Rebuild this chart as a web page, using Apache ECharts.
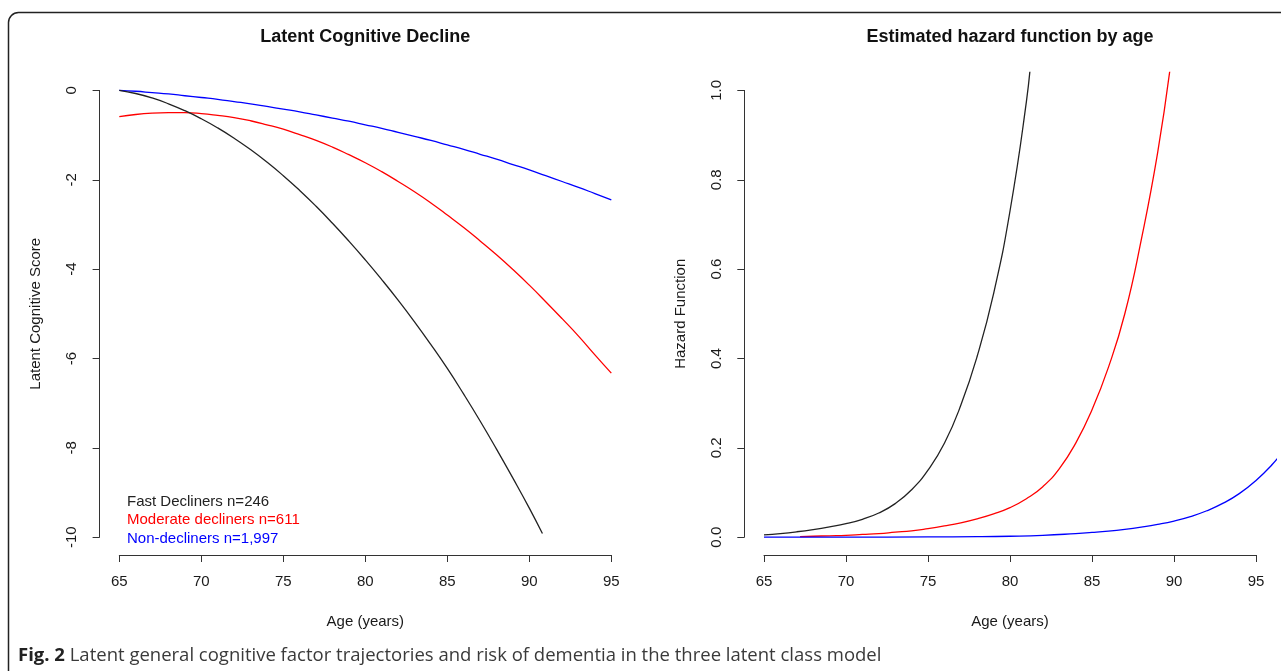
<!DOCTYPE html>
<html><head><meta charset="utf-8">
<script src="https://cdn.jsdelivr.net/npm/echarts@6/dist/echarts.min.js"></script>
<style>html,body{margin:0;padding:0;background:#fff}#c{width:1281px;height:671px}</style>
</head><body><div id="c"></div>
<script>
// ---- data ----
const seriesNames = ['Fast Decliners n=246', 'Moderate decliners n=611', 'Non-decliners n=1,997'];
const seriesColors = ['#222222', '#ff0000', '#0000ff'];

// Left panel: latent cognitive score by age
const scoreAgesFast = [65,66,67,68,69,70,71,72,73,74,75,76,77,78,79,80,81,82,83,84,85,86,87,88,89,90,90.8];
const scoreFast = [0,-0.07,-0.17,-0.3,-0.455,-0.635,-0.84,-1.07,-1.325,-1.605,-1.91,-2.24,-2.595,-2.975,-3.375,-3.795,-4.235,-4.695,-5.18,-5.69,-6.225,-6.8,-7.4,-8.03,-8.68,-9.35,-9.92];
const scoreAges = [65,66,67,68,69,70,71,72,73,74,75,76,77,78,79,80,81,82,83,84,85,86,87,88,89,90,91,92,93,94,95];
const scoreModerate = [-0.59,-0.54,-0.51,-0.5,-0.5,-0.52,-0.56,-0.61,-0.68,-0.77,-0.87,-0.99,-1.12,-1.27,-1.44,-1.62,-1.82,-2.04,-2.27,-2.52,-2.79,-3.07,-3.37,-3.68,-4.01,-4.36,-4.73,-5.11,-5.5,-5.92,-6.33];
const scoreNon = [0,-0.02,-0.05,-0.08,-0.12,-0.16,-0.2,-0.25,-0.3,-0.36,-0.42,-0.48,-0.55,-0.62,-0.69,-0.77,-0.85,-0.94,-1.03,-1.12,-1.22,-1.32,-1.43,-1.54,-1.66,-1.78,-1.91,-2.04,-2.17,-2.31,-2.45];

// Right panel: estimated hazard by age
const hazAgesFast = [65,66,67,68,69,70,71,72,73,74,75,76,77,78,79,80,81,81.3];
const hazFast = [0.005,0.008,0.012,0.017,0.023,0.03,0.04,0.054,0.075,0.106,0.15,0.21,0.295,0.405,0.545,0.73,0.975,1.08];
const hazAgesModerate = [67.2,68,69,70,71,72,73,74,75,76,77,78,79,80,81,82,83,84,85,86,87,88,89,89.8];
const hazModerate = [0.001,0.002,0.003,0.004,0.006,0.008,0.011,0.014,0.019,0.025,0.032,0.041,0.052,0.066,0.086,0.113,0.153,0.21,0.285,0.38,0.5,0.665,0.86,1.06];
const hazAgesNon = [65,70,75,78,80,82,84,85,86,87,88,89,90,91,92,93,94,95,96,96.6];
const hazNon = [0,0,0.0005,0.001,0.002,0.004,0.008,0.0105,0.0135,0.0175,0.0225,0.0285,0.036,0.046,0.059,0.076,0.098,0.127,0.163,0.19];

const xTickMin = 65, xTickMax = 95, xTickStep = 5;
const scoreTickMin = -10, scoreTickMax = 0, scoreTickStep = 2;
const hazTickMin = 0, hazTickMax = 1, hazTickStep = 0.2;

// ---- chart ----
const FONT = 'Liberation Sans, Arial, Helvetica, sans-serif';
const CAPFONT = 'Open Sans, Noto Sans, sans-serif';
const pairs = (xs, ys) => xs.map((x, i) => [x, ys[i]]);
const axisColor = '#333';
const lineW = 1.3;

function tickAxis(extra) {
  return Object.assign({
    type: 'value',
    axisLine: { show: true, onZero: false, lineStyle: { color: axisColor, width: 1 } },
    axisTick: { show: true, length: 7, lineStyle: { color: axisColor, width: 1 } },
    splitLine: { show: false },
    axisLabel: { fontSize: 15, color: '#1a1a1a', fontFamily: FONT },
    nameLocation: 'middle',
    nameTextStyle: { fontSize: 15, color: '#1a1a1a', fontFamily: FONT }
  }, extra);
}
const hidden = (g, mn, mx) => ({ type: 'value', gridIndex: g, min: mn, max: mx, show: false });

const PL = 99.6, PR = 744.3, plotW = 531.4, plotTop = 72.5, plotH = 482.5;
const tickW = 492, tickOff = 19.7, yTop = 90.4, yH = 446.8;

const grids = [
  { left: PL, top: plotTop, width: plotW, height: plotH },
  { left: PL + tickOff, top: plotTop, width: tickW, height: plotH },
  { left: PL, top: yTop, width: plotW, height: yH },
  { left: PR, top: plotTop, width: plotW, height: plotH },
  { left: PR + tickOff, top: plotTop, width: tickW, height: plotH },
  { left: PR, top: yTop, width: plotW, height: yH }
];

const lineSeries = (name, i, xi, yi, data) => ({
  name: name, type: 'line', xAxisIndex: xi, yAxisIndex: yi, data: data,
  showSymbol: false, symbol: 'none', smooth: 0.5, clip: true,
  lineStyle: { color: seriesColors[i], width: lineW }, itemStyle: { color: seriesColors[i] },
  emphasis: { disabled: true }, animation: false
});

const option = {
  backgroundColor: '#fff',
  animation: false,
  title: [
    { text: 'Latent Cognitive Decline', left: PL + plotW / 2, top: 28, textAlign: 'center', padding: 0,
      textStyle: { fontSize: 18, fontWeight: 'bold', color: '#111', fontFamily: FONT } },
    { text: 'Estimated hazard function by age', left: PR + plotW / 2, top: 28, textAlign: 'center', padding: 0,
      textStyle: { fontSize: 18, fontWeight: 'bold', color: '#111', fontFamily: FONT } },
    { text: '{b|Fig. 2} Latent general cognitive factor trajectories and risk of dementia in the three latent class model',
      left: 18, top: 646, padding: 0,
      textStyle: { fontSize: 18.5, color: '#3a3a3a', fontWeight: 'normal', fontFamily: CAPFONT,
        rich: { b: { fontSize: 18.5, fontWeight: 'bold', color: '#222', fontFamily: CAPFONT } } } }
  ],
  legend: {
    left: 117, top: 489.5, orient: 'vertical', selectedMode: false,
    itemWidth: 0, itemHeight: 15, itemGap: 3.3, icon: 'rect',
    itemStyle: { opacity: 0 }, lineStyle: { opacity: 0 },
    textStyle: { fontSize: 15, fontFamily: FONT },
    data: seriesNames.map((n, i) => ({ name: n, textStyle: { color: seriesColors[i] } }))
  },
  grid: grids,
  xAxis: [
    hidden(0, 63.8, 96.2),
    tickAxis({ gridIndex: 1, min: xTickMin, max: xTickMax, interval: xTickStep, position: 'bottom',
      axisLabel: { fontSize: 15, color: '#1a1a1a', fontFamily: FONT, margin: 19 },
      name: 'Age (years)', nameGap: 59 }),
    hidden(2, 0, 1),
    hidden(3, 63.8, 96.2),
    tickAxis({ gridIndex: 4, min: xTickMin, max: xTickMax, interval: xTickStep, position: 'bottom',
      axisLabel: { fontSize: 15, color: '#1a1a1a', fontFamily: FONT, margin: 19 },
      name: 'Age (years)', nameGap: 59 }),
    hidden(5, 0, 1)
  ],
  yAxis: [
    hidden(0, -10.4, 0.4),
    hidden(1, 0, 1),
    tickAxis({ gridIndex: 2, min: scoreTickMin, max: scoreTickMax, interval: scoreTickStep, position: 'left',
      axisLabel: { fontSize: 15, color: '#1a1a1a', fontFamily: FONT, rotate: 90, margin: 20 },
      name: 'Latent Cognitive Score', nameGap: 56, nameRotate: 90 }),
    hidden(3, -0.04, 1.04),
    hidden(4, 0, 1),
    tickAxis({ gridIndex: 5, min: hazTickMin, max: hazTickMax, interval: hazTickStep, position: 'left',
      axisLabel: { fontSize: 15, color: '#1a1a1a', fontFamily: FONT, rotate: 90, margin: 20,
        formatter: v => v.toFixed(1) },
      name: 'Hazard Function', nameGap: 56, nameRotate: 90 })
  ],
  series: [
    lineSeries(seriesNames[2], 2, 0, 0, pairs(scoreAges, scoreNon)),
    lineSeries(seriesNames[1], 1, 0, 0, pairs(scoreAges, scoreModerate)),
    lineSeries(seriesNames[0], 0, 0, 0, pairs(scoreAgesFast, scoreFast)),
    lineSeries(seriesNames[0], 0, 3, 3, pairs(hazAgesFast, hazFast)),
    lineSeries(seriesNames[1], 1, 3, 3, pairs(hazAgesModerate, hazModerate)),
    lineSeries(seriesNames[2], 2, 3, 3, pairs(hazAgesNon, hazNon))
  ],
  graphic: [
    { type: 'rect', silent: true, z: -10,
      shape: { x: 8.5, y: 12.5, width: 1320, height: 720, r: 10 },
      style: { fill: null, stroke: '#222', lineWidth: 1.5 } }
  ]
};

const chart = echarts.init(document.getElementById('c'), null, { renderer: 'canvas' });
chart.setOption(option);
</script>
</body></html>
